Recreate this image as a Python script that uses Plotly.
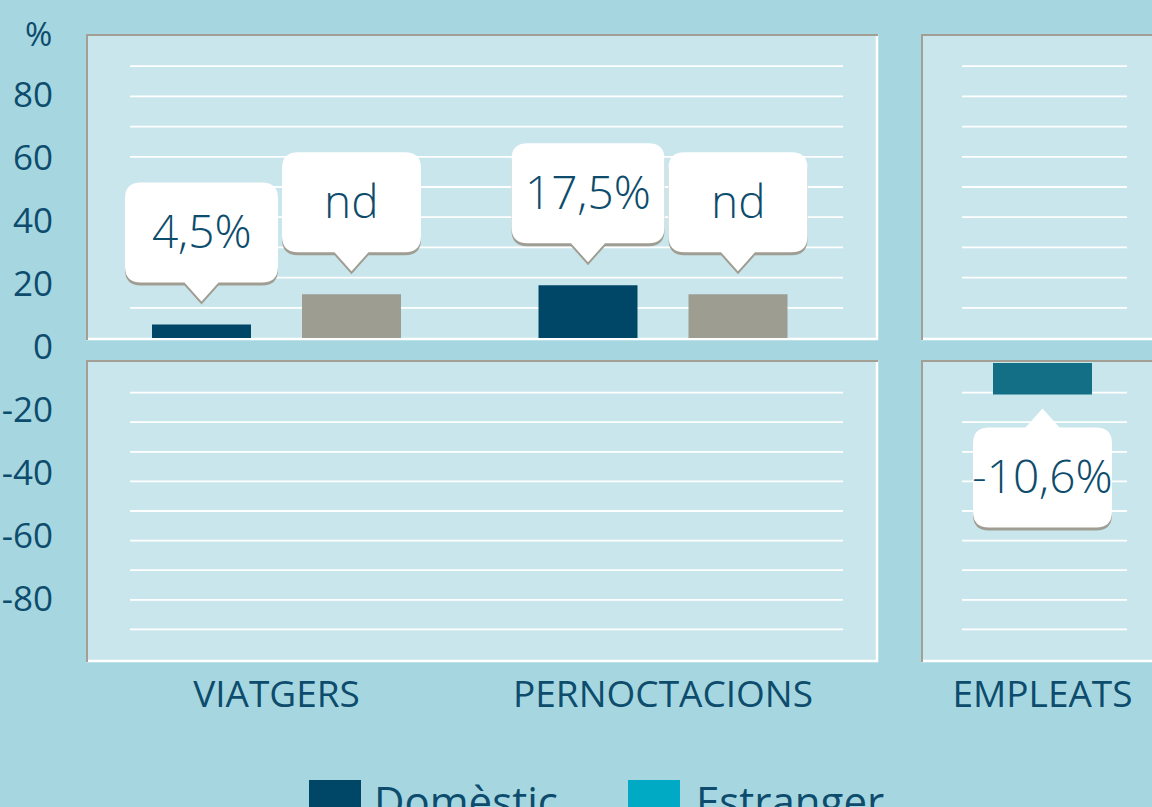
import plotly.graph_objects as go

# ---------------- data ----------------
CATEGORIES = ["VIATGERS", "PERNOCTACIONS"]
DOMESTIC = [4.5, 17.5]
ESTRANGER = [None, None]          # nd (no disponible)
ND_PLACEHOLDER = [14.5, 14.5]     # height of grey "nd" placeholder bars
EMP_CATEGORY = ["EMPLEATS"]
EMPLEATS = [-10.6]
TICK_VALUES = [80, 60, 40, 20, 0, -20, -40, -60, -80]
TICK_LABELS = ["80", "60", "40", "20", "0", "-20", "-40", "-60", "-80"]
LEGEND_NAMES = ["Domèstic", "Estranger"]

# ---------------- style ----------------
W, H = 1152, 807
BG = "#a6d7e1"
PANEL = "#c8e6ec"
BORDER_GREY = "#a49f95"
DARK = "#004767"
TEAL = "#136f86"
GREY = "#9e9d91"
CYAN = "#00a9c4"
TXT = "#0d4c6c"
SHADOW = "#a09d93"
FONT = "Open Sans"

PPU = 386.5              # pixels per category unit
BAR_W = 99 / PPU
PAIR = 75 / PPU          # half distance between the two bars of a group


def px(x):
    return x / W


def py(y):
    return 1 - y / H


def fmt(v):
    return "nd" if v is None else ("%.1f%%" % v).replace(".", ",")


fig = go.Figure()

# bars
fig.add_trace(go.Bar(x=list(range(len(CATEGORIES))), y=DOMESTIC, xaxis="x", yaxis="y",
                     width=BAR_W, offset=-PAIR - BAR_W / 2, marker=dict(color=DARK, line=dict(width=0)),
                     name=LEGEND_NAMES[0], showlegend=False, hoverinfo="skip"))
nd_y = [h if v is None else v for v, h in zip(ESTRANGER, ND_PLACEHOLDER)]
fig.add_trace(go.Bar(x=list(range(len(CATEGORIES))), y=nd_y, xaxis="x", yaxis="y",
                     width=BAR_W, offset=PAIR - BAR_W / 2, marker=dict(color=GREY, line=dict(width=0)),
                     name=LEGEND_NAMES[1], showlegend=False, hoverinfo="skip"))
fig.add_trace(go.Bar(x=[0], y=EMPLEATS, xaxis="x4", yaxis="y4",
                     width=BAR_W, offset=-BAR_W / 2, marker=dict(color=TEAL, line=dict(width=0)),
                     showlegend=False, hoverinfo="skip"))
# placeholder traces so the empty subplots exist
fig.add_trace(go.Scatter(x=[None], y=[None], xaxis="x2", yaxis="y2", showlegend=False, hoverinfo="skip"))
fig.add_trace(go.Scatter(x=[None], y=[None], xaxis="x5", yaxis="y5", showlegend=False, hoverinfo="skip"))

shapes = []
annotations = []

# panels
UP_T, UP_B = 34, 340
LO_T, LO_B = 360, 662
for (x0, x1) in [(86, 878), (921, 1165)]:
    for (y0, y1) in [(UP_T, UP_B), (LO_T, LO_B)]:
        shapes.append(dict(type="rect", xref="paper", yref="paper", x0=px(x0), x1=px(x1),
                           y0=py(y1), y1=py(y0), fillcolor=PANEL, line=dict(width=0), layer="below"))
        shapes.append(dict(type="line", xref="paper", yref="paper", x0=px(x0), x1=px(x1),
                           y0=py(y1 - 1), y1=py(y1 - 1), line=dict(color="white", width=2.5), layer="below"))
        shapes.append(dict(type="line", xref="paper", yref="paper", x0=px(x1 - 1), x1=px(x1 - 1),
                           y0=py(y1), y1=py(y0), line=dict(color="white", width=2.5), layer="below"))
        shapes.append(dict(type="line", xref="paper", yref="paper", x0=px(x0), x1=px(x1),
                           y0=py(y0 + 1), y1=py(y0 + 1), line=dict(color=BORDER_GREY, width=2), layer="below"))
        shapes.append(dict(type="line", xref="paper", yref="paper", x0=px(x0 + 1), x1=px(x0 + 1),
                           y0=py(y1), y1=py(y0), line=dict(color=BORDER_GREY, width=2), layer="below"))

# grid lines (limited horizontal extent)
GRID_UP = list(range(10, 100, 10))
GRID_LO = list(range(-10, -100, -10))
for (gx0, gx1) in [(130, 843), (962, 1127)]:
    for g in GRID_UP:
        shapes.append(dict(type="line", xref="paper", yref="y", x0=px(gx0), x1=px(gx1), y0=g, y1=g,
                           line=dict(color="white", width=1.8), layer="below"))
    for g in GRID_LO:
        shapes.append(dict(type="line", xref="paper", yref="y2", x0=px(gx0), x1=px(gx1), y0=g, y1=g,
                           line=dict(color="white", width=1.8), layer="below"))


def bubble_path(w, h, r, gap, ph, pw, s, dy=0):
    b = s * (gap + ph)
    t = s * (gap + ph + h)
    tip = s * gap
    hw = w / 2
    pts = [
        f"M {-pw/2},{b+dy}", f"L 0,{tip+dy}", f"L {pw/2},{b+dy}",
        f"L {hw-r},{b+dy}", f"Q {hw},{b+dy} {hw},{b+s*r+dy}",
        f"L {hw},{t-s*r+dy}", f"Q {hw},{t+dy} {hw-r},{t+dy}",
        f"L {-hw+r},{t+dy}", f"Q {-hw},{t+dy} {-hw},{t-s*r+dy}",
        f"L {-hw},{b+s*r+dy}", f"Q {-hw},{b+dy} {-hw+r},{b+dy}", "Z",
    ]
    return " ".join(pts)


callouts = []
for i, v in enumerate(DOMESTIC):
    callouts.append(("x", "y", i - PAIR, v, fmt(v), 1, 153))
for i, v in enumerate(ESTRANGER):
    callouts.append(("x", "y", i + PAIR, nd_y[i], fmt(v), 1, 139))
for i, v in enumerate(EMPLEATS):
    callouts.append(("x4", "y4", i, v, fmt(v), -1, 139))

BH, BR, PH, PW = 100, 16, 19, 34
for xr, yr, xc, yv, label, s, bw in callouts:
    gap = 23 if s > 0 else 14
    for col, dy in [(SHADOW, -3), ("white", 0)]:
        shapes.append(dict(type="path", xref=xr, yref=yr, xsizemode="pixel", ysizemode="pixel",
                           xanchor=xc, yanchor=yv, path=bubble_path(bw, BH, BR, gap, PH, PW, s, dy),
                           fillcolor=col, line=dict(width=0), layer="above"))
    annotations.append(dict(xref=xr, yref=yr, x=xc, y=yv, yshift=s * (gap + PH + BH / 2) + 2,
                            text=label, showarrow=False,
                            font=dict(family="Open Sans Light, Open Sans", size=46, color=TXT, weight=300)))

# "%" unit label
annotations.append(dict(xref="paper", yref="paper", x=px(54), y=py(33), xanchor="right", yanchor="middle",
                        text="%", showarrow=False, font=dict(family=FONT, size=33, color=TXT)))

# legend (custom)
for (sx, tx, col, name) in [(309, 372, DARK, LEGEND_NAMES[0]), (628, 694, CYAN, LEGEND_NAMES[1])]:
    shapes.append(dict(type="rect", xref="paper", yref="paper", x0=px(sx), x1=px(sx + 52),
                       y0=py(840), y1=py(780), fillcolor=col, line=dict(width=0)))
    annotations.append(dict(xref="paper", yref="paper", x=px(tx), y=py(770), xanchor="left", yanchor="top",
                            text=name, showarrow=False, font=dict(family=FONT, size=42, color=TXT)))

# axes geometry
L_DOM = [px(86), px(878)]
R_DOM = [px(921), px(1152)]
L_RANGE = [(86 - 276.5) / PPU, (878 - 276.5) / PPU]
R_RANGE = [(921 - 1042.5) / PPU, (1152 - 1042.5) / PPU]
UP_PPV, LO_PPV = 3.02, 2.96
UP_ZERO, LO_ZERO = 338, 363
U_DOM = [py(UP_B), py(UP_T)]
D_DOM = [py(LO_B), py(LO_T)]
U_RANGE = [-(UP_B - UP_ZERO) / UP_PPV, (UP_ZERO - UP_T) / UP_PPV]
D_RANGE = [-(LO_B - LO_ZERO) / LO_PPV, (LO_ZERO - LO_T) / LO_PPV]

hidden = dict(showgrid=False, zeroline=False, showline=False, showticklabels=False, ticks="", fixedrange=True)
cat_font = dict(family=FONT, size=37, color=TXT)

fig.update_layout(
    width=W, height=H, margin=dict(l=0, r=0, t=0, b=0),
    paper_bgcolor=BG, plot_bgcolor="rgba(0,0,0,0)", barmode="overlay",
    showlegend=False, hovermode=False,
    font=dict(family=FONT, color=TXT),
    xaxis=dict(domain=L_DOM, range=L_RANGE, anchor="y", **hidden),
    yaxis=dict(domain=U_DOM, range=U_RANGE, anchor="x", **hidden),
    xaxis2=dict(domain=L_DOM, range=L_RANGE, anchor="y2", showgrid=False, zeroline=False, showline=False,
                tickmode="array", tickvals=list(range(len(CATEGORIES))), ticktext=CATEGORIES,
                ticks="", ticklabelstandoff=7, tickfont=cat_font, fixedrange=True),
    yaxis2=dict(domain=D_DOM, range=D_RANGE, anchor="x2", **hidden),
    xaxis4=dict(domain=R_DOM, range=R_RANGE, anchor="y4", showgrid=False, zeroline=False, showline=False,
                tickmode="array", tickvals=[0], ticktext=EMP_CATEGORY,
                ticks="", ticklabelstandoff=7, tickfont=cat_font, fixedrange=True),
    yaxis4=dict(domain=D_DOM, range=D_RANGE, anchor="x4", **hidden),
    xaxis5=dict(domain=[0, px(56)], range=[0, 1], anchor="y5", **hidden),
    yaxis5=dict(domain=[0, 1], range=[-(H - 347) / 3.15, 347 / 3.15], anchor="x5", side="right",
                ticklabelposition="inside", tickmode="array", tickvals=TICK_VALUES, ticktext=TICK_LABELS,
                showgrid=False, zeroline=False, showline=False, ticks="",
                tickfont=dict(family=FONT, size=35, color=TXT), fixedrange=True),
    shapes=shapes, annotations=annotations,
)

fig.write_html("out.html", config={"displayModeBar": False, "staticPlot": True},
               post_script="document.body.style.margin='0';document.body.style.overflow='hidden';")
